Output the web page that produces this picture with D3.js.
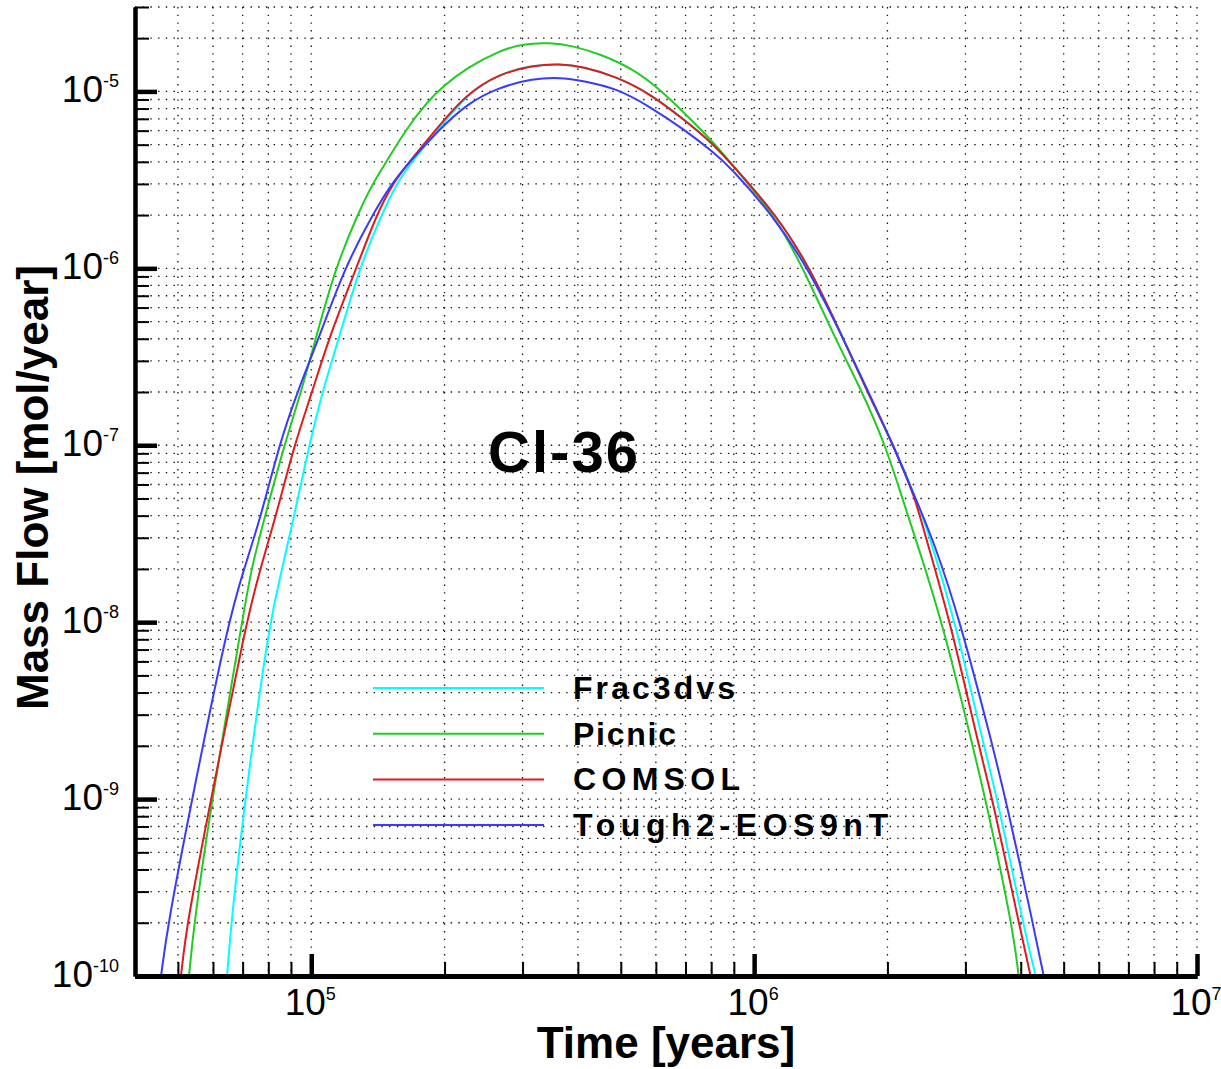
<!DOCTYPE html>
<html>
<head>
<meta charset="utf-8">
<script src="https://cdn.jsdelivr.net/npm/d3@7"></script>
<style>
  body { margin: 0; background: #fff; }
  svg { font-family: 'Liberation Sans', Arial, sans-serif; }
</style>
</head>
<body>
<div id="chart"></div>
<script>
// each point: [time (years), mass flow (mol/year)]
var frac3dvs = [
  [64570, 1e-10], [65920, 2e-10], [70900, 1e-9], [80350, 1e-8], [86000, 2e-8], [91500, 4e-8],
  [98960, 1e-7], [105900, 2e-7], [115700, 4.1e-7], [128400, 1e-6], [144000, 2e-6], [155700, 3e-6],
  [168400, 4e-6], [194000, 6.1e-6], [224200, 9.6e-6], [266300, 1.26e-5], [316200, 1.41e-5],
  [364000, 1.43e-5], [410400, 1.375e-5], [489800, 1.21e-5], [581600, 9.75e-6], [690900, 7.05e-6],
  [807600, 5.06e-6], [896500, 3.8e-6], [1.127e6, 1.98e-6], [1.339e6, 1e-6], [1.59e6, 4e-7],
  [1.805e6, 2e-7], [2.063e6, 1e-7], [2.32e6, 5e-8], [2.462e6, 3.35e-8], [2.85e6, 1e-8],
  [3.297e6, 2e-9], [3.546e6, 1e-9], [4.06e6, 1.9e-10], [4.323e6, 1e-10]
]
var picnic = [
  [52970, 1e-10], [54370, 2e-10], [59700, 1e-9], [69800, 1e-8], [73150, 2e-8], [78700, 4e-8],
  [86900, 1e-7], [94900, 2e-7], [102600, 4.1e-7], [113300, 1e-6], [127100, 2e-6], [137400, 3e-6],
  [147800, 4e-6], [164000, 6.15e-6], [183000, 8.75e-6], [197900, 1.063e-5], [224200, 1.36e-5],
  [266300, 1.7e-5], [300100, 1.86e-5], [345500, 1.89e-5], [389500, 1.81e-5], [448300, 1.63e-5],
  [532500, 1.34e-5], [603400, 1.06e-5], [690900, 7.7e-6], [807600, 5.2e-6], [896500, 3.8e-6],
  [1.115e6, 1.98e-6], [1.291e6, 1e-6], [1.525e6, 4e-7], [1.755e6, 2e-7], [1.979e6, 1e-7],
  [2.162e6, 5e-8], [2.278e6, 3.35e-8], [2.663e6, 1e-8], [3.113e6, 2e-9], [3.332e6, 1e-9],
  [3.834e6, 1.9e-10], [3.957e6, 1e-10]
]
var comsol = [
  [50800, 1e-10], [52400, 2e-10], [59400, 1e-9], [71330, 1e-8], [76700, 2e-8], [83300, 4e-8],
  [91500, 1e-7], [100500, 2e-7], [109800, 4.1e-7], [126400, 1e-6], [140300, 2e-6], [152500, 3e-6],
  [166600, 4e-6], [191800, 6.15e-6], [224200, 9.7e-6], [266300, 1.26e-5], [316200, 1.4e-5],
  [364000, 1.435e-5], [410400, 1.38e-5], [489800, 1.21e-5], [581600, 9.7e-6], [690900, 7.0e-6],
  [807600, 5.06e-6], [896500, 3.8e-6], [1.127e6, 1.98e-6], [1.339e6, 1e-6], [1.59e6, 4e-7],
  [1.802e6, 2e-7], [2.063e6, 1e-7], [2.313e6, 5e-8], [2.411e6, 3.35e-8], [2.776e6, 1e-8],
  [3.213e6, 2e-9], [3.455e6, 1e-9], [3.977e6, 1.9e-10], [4.21e6, 1e-10]
]
var tough2 = [
  [45800, 1e-10], [47500, 2e-10], [53800, 1e-9], [64900, 1e-8], [70500, 2e-8], [77100, 4e-8],
  [84600, 1e-7], [93000, 2e-7], [104300, 4.1e-7], [118800, 1e-6], [137400, 2e-6], [151700, 3e-6],
  [166600, 4e-6], [194800, 6.1e-6], [224200, 8.5e-6], [266300, 1.06e-5], [316200, 1.18e-5],
  [364000, 1.2e-5], [410400, 1.15e-5], [489800, 1.04e-5], [581600, 8.2e-6], [690900, 6.15e-6],
  [807600, 4.56e-6], [882400, 3.75e-6], [1.104e6, 1.98e-6], [1.325e6, 1e-6], [1.59e6, 4e-7],
  [1.811e6, 2e-7], [2.063e6, 1e-7], [2.313e6, 5e-8], [2.541e6, 2.9e-8], [2.924e6, 1e-8],
  [3.455e6, 2e-9], [3.698e6, 1e-9], [4.278e6, 1.9e-10], [4.506e6, 1e-10]
]

var seriesData   = [frac3dvs, picnic, comsol, tough2]
var seriesNames  = ['Frac3dvs', 'Picnic', 'COMSOL', 'Tough2-EOS9nT']
var seriesColors = ['#00ffff', '#22cc22', '#e01b1b', '#3a3aff']

var xDomain = [4e4, 1e7]
var yDomain = [1e-10, 3e-5]
var xMajorTicks = [1e5, 1e6, 1e7]
var yMajorTicks = [1e-10, 1e-9, 1e-8, 1e-7, 1e-6, 1e-5]

var margin = {top: 7, right: 24, bottom: 93, left: 135}
var width = 1221 - margin.left - margin.right
var height = 1069 - margin.top - margin.bottom

var svg = d3.select('#chart')
  .append('svg')
    .attr('width', width + margin.left + margin.right)
    .attr('height', height + margin.top + margin.bottom)
  .append('g')
    .attr('transform', 'translate(' + margin.left + ',' + margin.top + ')')

var x = d3.scaleLog().domain(xDomain).range([0, width])
var y = d3.scaleLog().domain(yDomain).range([height, 0])

// dotted grid on every decade multiple
var grid = svg.append('g')
  .attr('stroke', '#111')
  .attr('stroke-width', 1.3)
  .attr('stroke-dasharray', '1.4,6.3')
grid.selectAll('.vg').data(x.ticks()).join('line')
  .attr('x1', d => x(d)).attr('x2', d => x(d))
  .attr('y1', 0).attr('y2', height)
grid.selectAll('.hg').data(y.ticks()).join('line')
  .attr('x1', 0).attr('x2', width)
  .attr('y1', d => y(d)).attr('y2', d => y(d))

// curves
svg.append('clipPath').attr('id', 'plotClip')
  .append('rect').attr('width', width).attr('height', height)

var line = d3.line()
  .x(d => x(d[0]))
  .y(d => y(d[1]))
  .curve(d3.curveBasis)

for (var i = 0; i < seriesData.length; ++i) {
  svg.append('path')
    .datum(seriesData[i])
    .attr('clip-path', 'url(#plotClip)')
    .attr('fill', 'none')
    .attr('stroke', seriesColors[i])
    .attr('stroke-width', 2)
    .attr('d', line)
}

// axes: minor ticks, then major ticks, all pointing inward
var xMinor = x.ticks().filter(d => xMajorTicks.indexOf(d) < 0)
var yMinor = y.ticks().filter(d => yMajorTicks.indexOf(d) < 0)

function styleAxis(g, lineWidth, domainWidth) {
  g.selectAll('.tick line').attr('stroke', '#000').attr('stroke-width', lineWidth)
  g.select('.domain').attr('stroke', '#000').attr('stroke-width', domainWidth)
}

svg.append('g').attr('transform', 'translate(0,' + height + ')')
  .call(d3.axisBottom(x).tickValues(xMinor).tickSizeInner(-14).tickSizeOuter(0).tickFormat(''))
  .call(g => styleAxis(g, 2, 5))
svg.append('g').attr('transform', 'translate(0,' + height + ')')
  .call(d3.axisBottom(x).tickValues(xMajorTicks).tickSizeInner(-22).tickSizeOuter(0).tickFormat(''))
  .call(g => styleAxis(g, 4.5, 5))
svg.append('g')
  .call(d3.axisLeft(y).tickValues(yMinor).tickSizeInner(-14).tickSizeOuter(0).tickFormat(''))
  .call(g => styleAxis(g, 2, 4))
svg.append('g')
  .call(d3.axisLeft(y).tickValues(yMajorTicks).tickSizeInner(-22).tickSizeOuter(0).tickFormat(''))
  .call(g => styleAxis(g, 4.5, 4))

// power-of-ten tick labels
function powerLabel(sel) {
  sel.append('tspan').attr('font-size', 37).text('10')
  sel.append('tspan').attr('font-size', 18).attr('dy', -15)
    .text(d => String(Math.round(Math.log10(d))))
}

svg.append('g').selectAll('text').data(xMajorTicks).join('text')
  .attr('x', d => x(d) - 1)
  .attr('y', height + 39)
  .attr('text-anchor', 'middle')
  .call(powerLabel)

svg.append('g').selectAll('text').data(yMajorTicks).join('text')
  .attr('x', -16)
  .attr('y', d => y(d) + 11)
  .attr('text-anchor', 'end')
  .call(powerLabel)

// axis titles
svg.append('text')
  .attr('x', width / 2).attr('y', height + 82)
  .attr('text-anchor', 'middle')
  .attr('font-size', 44).attr('font-weight', 'bold')
  .text('Time [years]')

svg.append('text')
  .attr('transform', 'translate(-87,' + (height / 2 - 4) + ') rotate(-90)')
  .attr('text-anchor', 'middle')
  .attr('font-size', 44).attr('font-weight', 'bold')
  .text('Mass Flow [mol/year]')

// annotation
svg.append('text')
  .attr('x', 429).attr('y', 465)
  .attr('text-anchor', 'middle')
  .attr('font-size', 58).attr('font-weight', 'bold')
  .attr('letter-spacing', 2)
  .text('Cl-36')

// legend (label widths follow the wide lettering of the original)
var legendTextWidths = [162, 103, 167, 315]
var legend = svg.append('g').attr('transform', 'translate(238,681)')
var rows = legend.selectAll('g').data(seriesNames).join('g')
  .attr('transform', (d, i) => 'translate(0,' + (i * 45.7) + ')')
rows.append('line')
  .attr('x1', 0).attr('x2', 171)
  .attr('stroke', (d, i) => seriesColors[i])
  .attr('stroke-width', 2)
rows.append('text')
  .attr('x', 200).attr('y', 11)
  .attr('font-size', 32).attr('font-weight', 'bold')
  .attr('textLength', (d, i) => legendTextWidths[i])
  .attr('lengthAdjust', 'spacing')
  .text(d => d)
</script>
</body>
</html>
